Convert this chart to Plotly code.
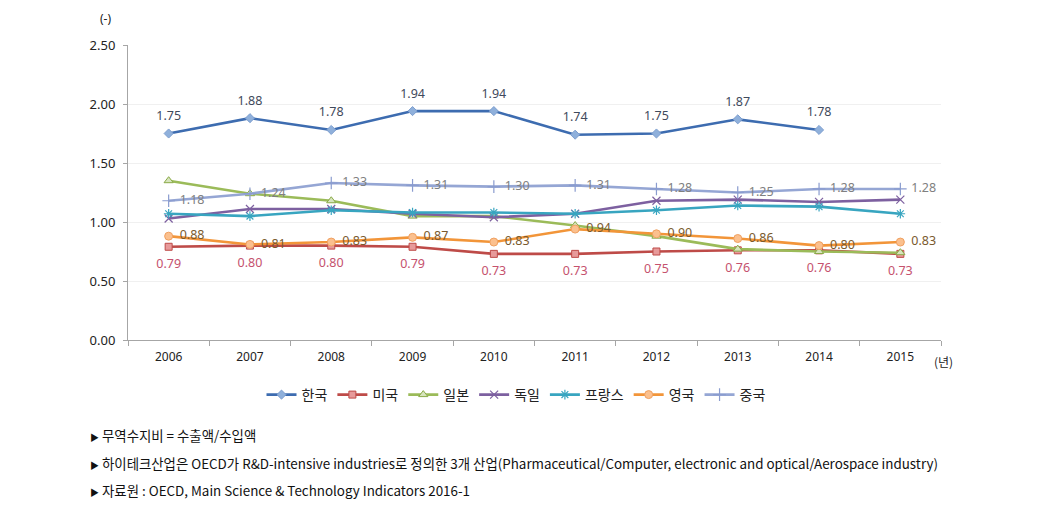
import plotly.graph_objects as go

years = ["2006", "2007", "2008", "2009", "2010", "2011", "2012", "2013", "2014", "2015"]
korea = [1.75, 1.88, 1.78, 1.94, 1.94, 1.74, 1.75, 1.87, 1.78, None]
usa = [0.79, 0.80, 0.80, 0.79, 0.73, 0.73, 0.75, 0.76, 0.76, 0.73]
japan = [1.35, 1.24, 1.18, 1.05, 1.05, 0.97, 0.88, 0.77, 0.75, 0.74]
germany = [1.03, 1.11, 1.11, 1.07, 1.04, 1.07, 1.18, 1.19, 1.17, 1.19]
france = [1.07, 1.05, 1.10, 1.08, 1.08, 1.07, 1.10, 1.14, 1.13, 1.07]
uk = [0.88, 0.81, 0.83, 0.87, 0.83, 0.94, 0.90, 0.86, 0.80, 0.83]
china = [1.18, 1.24, 1.33, 1.31, 1.30, 1.31, 1.28, 1.25, 1.28, 1.28]

names = ["한국", "미국", "일본", "독일", "프랑스", "영국", "중국"]
footnotes = [
    "무역수지비 = 수출액/수입액",
    "하이테크산업은 OECD가 R&D-intensive industries로 정의한 3개 산업(Pharmaceutical/Computer, electronic and optical/Aerospace industry)",
    "자료원 : OECD, Main Science & Technology Indicators 2016-1",
]

OFF = 8  # page body margin
W, H = 1053 - OFF, 523 - OFF
L, R, T, B = 128 - OFF, 941 - OFF, 45 - OFF, 340 - OFF

def px_x(x):
    return (x - OFF - L) / (R - L)

def px_y(y):
    return (B - (y - OFF)) / (B - T)

def lab(vals):
    return [("" if v is None else f"{v:.2f}") for v in vals]

fig = go.Figure()

FONT = "Noto Sans, Noto Sans CJK KR, sans-serif"

specs = [
    (names[0], korea, "#3D6CB0", dict(symbol="diamond", color="#8FB0DB", size=7, line=dict(color="#7E9FCF", width=1)), "top center", "#3F4A5C", 15),
    (names[1], usa, "#BE4B48", dict(symbol="square", color="#E79A9A", size=7, line=dict(color="#BE4B48", width=1)), "bottom center", "#C5526E", 18),
    (names[2], japan, "#9BBB59", dict(symbol="triangle-up", color="#D7E4BD", size=8, line=dict(color="#8AAA48", width=1)), None, None, 0),
    (names[3], germany, "#7D60A0", dict(symbol="x-thin-open", color="#7D60A0", size=8, line=dict(color="#7D60A0", width=1.2)), None, None, 0),
    (names[4], france, "#38A5C0", dict(symbol="asterisk-open", color="#38A5C0", size=8, line=dict(color="#38A5C0", width=1.2)), None, None, 0),
    (names[5], uk, "#F29539", dict(symbol="circle", color="#FBC08E", size=8, line=dict(color="#F0A060", width=1)), "middle right", "#7A5A2E", 16),
    (names[6], china, "#95A6D4", dict(symbol="cross-thin-open", color="#8A9CCF", size=9, line=dict(color="#8A9CCF", width=1.2)), "middle right", "#808080", 16),
]

for name, vals, color, marker, tpos, tcolor, pad in specs:
    fig.add_trace(go.Scatter(
        x=years, y=vals, name=name, mode="lines+markers",
        line=dict(color=color, width=2.6),
        marker=marker, cliponaxis=False))

# data labels (separate text layers so the offset from the marker matches)
for name, vals, color, marker, tpos, tcolor, pad in specs:
    if not tpos:
        continue
    fig.add_trace(go.Scatter(
        x=years, y=vals, mode="markers+text", showlegend=False, hoverinfo="skip",
        marker=dict(size=pad, opacity=0, color=color),
        text=lab(vals), textposition=tpos,
        textfont=dict(family=FONT, size=12.5, color=tcolor), cliponaxis=False))

ann = [
    dict(text="(-)", x=px_x(105), y=px_y(18), xanchor="center", yanchor="middle",
         font=dict(family=FONT, size=12, color="#222")),
    dict(text="(년)", x=px_x(943), y=px_y(361), xanchor="center", yanchor="middle",
         font=dict(family="Noto Sans CJK KR", size=12, color="#222")),
]
for i, t in enumerate(footnotes):
    ann.append(dict(
        text='<span style="font-size:9px">▶</span> ' + t,
        x=px_x(88), y=px_y(435 + 27.5 * i),
        xanchor="left", yanchor="middle", align="left",
        font=dict(family="Noto Sans CJK KR", size=13.4, color="#111")))

for a in ann:
    a.update(xref="paper", yref="paper", showarrow=False)

fig.update_layout(
    width=W, height=H,
    margin=dict(l=L, r=W - R, t=T, b=H - B, pad=0),
    paper_bgcolor="white", plot_bgcolor="white",
    showlegend=True,
    legend=dict(orientation="h", x=px_x(516), xanchor="center",
                y=px_y(395), yanchor="middle",
                font=dict(family="Noto Sans CJK KR", size=14, color="#222"),
                itemwidth=30, traceorder="normal"),
    annotations=ann,
    font=dict(family=FONT),
)
fig.update_xaxes(type="category", tickson="boundaries", ticks="outside", ticklen=5,
                 tickcolor="#A6A6A6", showline=True, linecolor="#A6A6A6", linewidth=1,
                 showgrid=False, tickfont=dict(family=FONT, size=12, color="#222"),
                 ticklabelstandoff=6, range=[-0.5, 9.5])
fig.update_yaxes(range=[0, 2.5], dtick=0.5, tickformat=".2f", ticks="outside", ticklen=4,
                 tickcolor="#A6A6A6", showline=True, linecolor="#A6A6A6", linewidth=1,
                 showgrid=True, gridcolor="#F0F0F0", zeroline=False,
                 ticklabelstandoff=5,
                 tickfont=dict(family=FONT, size=13, color="#222"))

fig.write_html("out.html")
